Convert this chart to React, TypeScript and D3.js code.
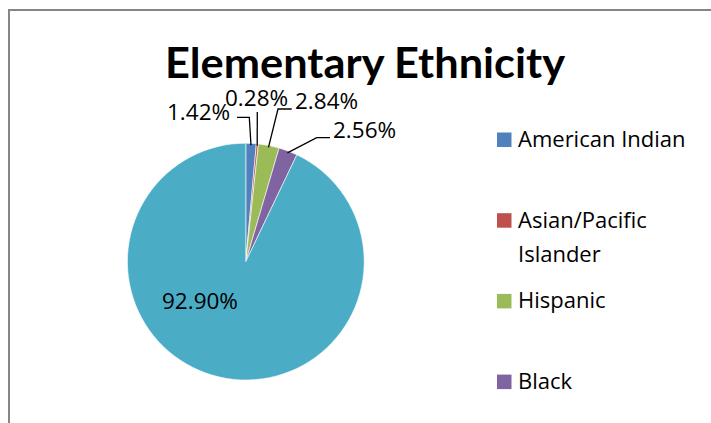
import React from "react";
import * as d3 from "d3";

const categories = ["American Indian", "Asian/Pacific Islander", "Hispanic", "Black", "White"];
const values = [1.42, 0.28, 2.84, 2.56, 92.9];
const valueLabels = ["1.42%", "0.28%", "2.84%", "2.56%", "92.90%"];
const legendLines = [["American Indian"], ["Asian/Pacific", "Islander"], ["Hispanic"], ["Black"], ["White"]];
const colors = ["#4F81BD", "#C0504D", "#9BBB59", "#8064A2", "#4BACC6"];
const title = "Elementary Ethnicity";

// layout (label anchors), not data
const CX = 245.8, CY = 261.6, R = 118.4;
const labelPos: { x: number; y: number; elbow?: [number, number][] }[] = [
  { x: 167, y: 119.5, elbow: [[237, 117.3], [249.3, 117.3]] },
  { x: 225, y: 106, elbow: [[257.3, 112]] },
  { x: 295, y: 108.5, elbow: [[291.7, 109], [278, 109]] },
  { x: 333, y: 138, elbow: [[330, 137.7], [316.7, 137.7]] },
  { x: 162, y: 308.5 },
];

export default function App() {
  const pie = d3.pie<number>().sort(null).value((d) => d)(values);
  const arc = d3.arc<d3.PieArcDatum<number>>().innerRadius(0).outerRadius(R);
  const titleFont = "Lato, 'Open Sans', sans-serif";
  const font = "'Open Sans', Lato, sans-serif";
  const legendX = 497, legendY0 = 147, legendStep = 80.7, lineH = 34;
  const H = 423;

  return (
    <svg
      width={711}
      height={H}
      style={{ position: "absolute", left: 0, top: 0, background: "#fff" }}
    >
      <rect x={0} y={0} width={711} height={H} fill="#fff" />
      <rect x={9} y={10} width={760} height={480} fill="#fff" stroke="#868686" strokeWidth={2} />
      <text
        x={365}
        y={77.7}
        textAnchor="middle"
        fontFamily={titleFont}
        fontWeight={700}
        fontSize={41.5}
        textLength={400}
        lengthAdjust="spacingAndGlyphs"
        fill="#000"
      >
        {title}
      </text>
      <g transform={`translate(${CX},${CY})`}>
        {pie.map((p, i) => (
          <path key={i} d={arc(p) || ""} fill={colors[i]} stroke="#fff" strokeWidth={0.6} />
        ))}
      </g>
      {pie.map((p, i) => {
        const lp = labelPos[i];
        if (!lp.elbow) return null;
        const a = (p.startAngle + p.endAngle) / 2;
        const ex = CX + Math.sin(a) * (R - 2);
        const ey = CY - Math.cos(a) * (R - 2);
        const pts: [number, number][] = [...lp.elbow, [ex, ey]];
        const line = d3.line()(pts) || "";
        return <path key={"l" + i} d={line} fill="none" stroke="#000" strokeWidth={1.3} />;
      })}
      {pie.map((p, i) => {
        const lp = labelPos[i];
        return (
          <text
            key={"t" + i}
            x={lp.x}
            y={lp.y}
            fontFamily={font}
            fontSize={22.5}
            fill="#000"
          >
            {valueLabels[i]}
          </text>
        );
      })}
      {categories.map((c, i) => {
        const y = legendY0 + i * legendStep;
        // entries that fall below the visible chart area are clipped in the reference
        if (y + 6 > H) return null;
        return (
          <g key={"lg" + i}>
            <rect x={legendX} y={y - 14.5} width={14.5} height={14.5} fill={colors[i]} />
            {legendLines[i].map((t, j) => (
              <text
                key={j}
                x={518}
                y={y + j * lineH}
                fontFamily={font}
                fontSize={22}
                fill="#000"
              >
                {t}
              </text>
            ))}
          </g>
        );
      })}
    </svg>
  );
}
